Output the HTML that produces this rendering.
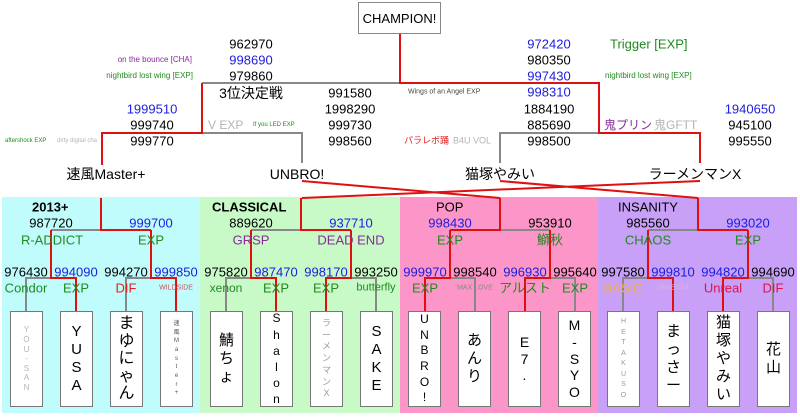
<!DOCTYPE html>
<html><head><meta charset="utf-8"><style>
*{margin:0;padding:0}
body{width:800px;height:418px;position:relative;background:#fff;overflow:hidden;font-family:"Liberation Sans","Noto Sans CJK JP",sans-serif;color:#000}
.bg{position:absolute;top:197px;height:216px}
.c{position:absolute;transform:translate(-50%,-50%);white-space:nowrap;font-size:13px;line-height:1}
.r{position:absolute;transform:translate(-100%,-50%);white-space:nowrap;line-height:1}
.l{position:absolute;transform:translate(0,-50%);white-space:nowrap;line-height:1}
.b{color:#1c1ce0}.g{color:#1f8a1f}.p{color:#8a2a9a}.rd{color:#e02020}.gy{color:#b4b4b4}
.box{position:absolute;top:311px;width:33px;height:96px;background:#fff;border:1px solid #777;box-sizing:border-box;display:flex;flex-direction:column;align-items:center;justify-content:center;text-align:center;line-height:1.2}
</style></head><body>
<div class="bg" style="left:2px;width:198px;background:#c0fcfc"></div>
<div class="bg" style="left:200px;width:200px;background:#c8fac8"></div>
<div class="bg" style="left:400px;width:198px;background:#fc96c8"></div>
<div class="bg" style="left:598px;width:199px;background:#c8a0f8"></div>

<svg width="800" height="418" style="position:absolute;left:0;top:0" fill="none" stroke-width="2">
<g stroke="#888">
<path d="M400 83H202M202 133H302V163M599 133H500V163"/>
<path d="M51 230H151M26 312V278H51M126 312V278H151"/>
<path d="M251 230H351M226 312V278H251M376 312V278H351"/>
<path d="M450 230H550M475 312V278H450M575 312V278H550"/>
<path d="M648 230H748M623 312V278H648M773 312V278H748"/>
</g>
<g stroke="#e01010">
<path d="M400 34V83H599V133H700V163"/>
<path d="M202 83V133H102V165"/>
<path d="M302 181L500 198M500 181L698 198M700 181L302 198"/>
<path d="M101 198V230H151M51 230V278H76V312M151 230V278H176V312"/>
<path d="M301 198V230H351M251 230V278H276V312M351 230V278H326V312"/>
<path d="M500 198V230H450M450 230V278H425V312M550 230V278H525V312"/>
<path d="M698 198V230H748M648 230V278H673V312M748 230V278H723V312"/>
</g>
</svg>

<div style="position:absolute;left:358px;top:2px;width:83px;height:32px;border:1px solid #888;box-sizing:border-box;background:#fff;display:flex;align-items:center;justify-content:center;font-size:13px">CHAMPION!</div>

<div class="c" style="left:251px;top:44px">962970</div>
<div class="c b" style="left:251px;top:60px">998690</div>
<div class="c" style="left:251px;top:76px">979860</div>
<div class="r p" style="left:192px;top:60px;font-size:8px">on the bounce [CHA]</div>
<div class="r g" style="left:193px;top:76px;font-size:8px">nightbird lost wing [EXP]</div>
<div class="c" style="left:251px;top:93px;font-size:14px">3位決定戦</div>
<div class="c" style="left:350px;top:93px">991580</div>
<div class="c" style="left:350px;top:109px">1998290</div>
<div class="c" style="left:350px;top:125px">999730</div>
<div class="c" style="left:350px;top:141px">998560</div>
<div class="c b" style="left:152px;top:109px">1999510</div>
<div class="c" style="left:152px;top:125px">999740</div>
<div class="c" style="left:152px;top:141px">999770</div>
<div class="l gy" style="left:208px;top:125px;font-size:12px">V EXP</div>
<div class="l g" style="left:253px;top:125px;font-size:6px">If you LED EXP</div>
<div class="l g" style="left:5px;top:141px;font-size:6px">aftershock EXP</div>
<div class="l gy" style="left:57px;top:141px;font-size:6px">dirty digital cha</div>
<div class="c" style="left:106px;top:174px;font-size:14px">速風Master+</div>
<div class="c" style="left:297px;top:174px;font-size:14px">UNBRO!</div>

<div class="c b" style="left:549px;top:44px">972420</div>
<div class="l g" style="left:610px;top:44px;font-size:13px">Trigger [EXP]</div>
<div class="c" style="left:549px;top:60px">980350</div>
<div class="c b" style="left:549px;top:76px">997430</div>
<div class="l g" style="left:605px;top:76px;font-size:8px">nightbird lost wing [EXP]</div>
<div class="l" style="left:408px;top:92px;font-size:7px;color:#444">Wings of an Angel EXP</div>
<div class="c b" style="left:549px;top:92px">998310</div>
<div class="c" style="left:549px;top:109px">1884190</div>
<div class="c" style="left:549px;top:125px">885690</div>
<div class="c" style="left:549px;top:141px">998500</div>
<div class="l p" style="left:604px;top:125px;font-size:12px">鬼プリン</div>
<div class="l gy" style="left:654px;top:125px;font-size:12px">鬼GFTT</div>
<div class="l rd" style="left:404px;top:141px;font-size:9px">パラレボ踊</div>
<div class="l gy" style="left:453px;top:141px;font-size:9px">B4U VOL</div>
<div class="c b" style="left:750px;top:109px">1940650</div>
<div class="c" style="left:750px;top:125px">945100</div>
<div class="c" style="left:750px;top:141px">995550</div>
<div class="c" style="left:500px;top:174px;font-size:14px">猫塚やみい</div>
<div class="c" style="left:695px;top:174px;font-size:14px">ラーメンマンX</div>

<!-- 2013+ -->
<div class="l" style="left:32px;top:207px;font-weight:bold;font-size:13px">2013+</div>
<div class="c" style="left:51px;top:223px">987720</div>
<div class="c b" style="left:151px;top:223px">999700</div>
<div class="c g" style="left:52px;top:240px">R-ADDICT</div>
<div class="c g" style="left:151px;top:240px">EXP</div>
<div class="c" style="left:26px;top:272px">976430</div>
<div class="c b" style="left:76px;top:272px">994090</div>
<div class="c" style="left:126px;top:272px">994270</div>
<div class="c b" style="left:176px;top:272px">999850</div>
<div class="c g" style="left:26px;top:288px">Condor</div>
<div class="c g" style="left:76px;top:288px">EXP</div>
<div class="c rd" style="left:126px;top:288px">DIF</div>
<div class="c" style="left:176px;top:288px;font-size:7px;color:#d05060">WILDSIDE</div>
<div class="box gy" style="left:10px;font-size:8px">Y<br>O<br>U<br>-<br>S<br>A<br>N</div>
<div class="box" style="left:60px;font-size:15px">Y<br>U<br>S<br>A</div>
<div class="box" style="left:110px;font-size:16px;line-height:1.1">ま<br>ゆ<br>に<br>ゃ<br>ん</div>
<div class="box" style="left:160px;font-size:6px;line-height:1.45;color:#555">速<br>風<br>M<br>a<br>s<br>t<br>e<br>r<br>+</div>

<!-- CLASSICAL -->
<div class="l" style="left:212px;top:207px;font-weight:bold;font-size:13px">CLASSICAL</div>
<div class="c" style="left:251px;top:223px">889620</div>
<div class="c b" style="left:351px;top:223px">937710</div>
<div class="c p" style="left:251px;top:240px">GRSP</div>
<div class="c p" style="left:351px;top:240px">DEAD END</div>
<div class="c" style="left:226px;top:272px">975820</div>
<div class="c b" style="left:276px;top:272px">987470</div>
<div class="c b" style="left:326px;top:272px">998170</div>
<div class="c" style="left:376px;top:272px">993250</div>
<div class="c g" style="left:226px;top:288px;font-size:12px">xenon</div>
<div class="c g" style="left:276px;top:288px">EXP</div>
<div class="c g" style="left:326px;top:288px">EXP</div>
<div class="c g" style="left:376px;top:288px;font-size:11px">butterfly</div>
<div class="box" style="left:210px;font-size:15px">鯖<br>ち<br>ょ</div>
<div class="box" style="left:260px;font-size:12px;line-height:1.35">S<br>h<br>a<br>l<br>o<br>n</div>
<div class="box gy" style="left:310px;font-size:9px;line-height:1.3;color:#999">ラ<br>ー<br>メ<br>ン<br>マ<br>ン<br>X</div>
<div class="box" style="left:360px;font-size:15px">S<br>A<br>K<br>E</div>

<!-- POP -->
<div class="l" style="left:436px;top:207px;font-size:13px">POP</div>
<div class="c b" style="left:450px;top:223px">998430</div>
<div class="c" style="left:550px;top:223px">953910</div>
<div class="c g" style="left:450px;top:240px">EXP</div>
<div class="c g" style="left:550px;top:240px">鰤秋</div>
<div class="c b" style="left:425px;top:272px">999970</div>
<div class="c" style="left:475px;top:272px">998540</div>
<div class="c b" style="left:525px;top:272px">996930</div>
<div class="c" style="left:575px;top:272px">995640</div>
<div class="c g" style="left:425px;top:288px">EXP</div>
<div class="c" style="left:475px;top:288px;font-size:7px;color:#888">MAX LOVE</div>
<div class="c g" style="left:525px;top:288px">アルスト</div>
<div class="c g" style="left:575px;top:288px">EXP</div>
<div class="box" style="left:408px;font-size:12px;line-height:1.3">U<br>N<br>B<br>R<br>O<br>!</div>
<div class="box" style="left:458px;font-size:15px">あ<br>ん<br>り</div>
<div class="box" style="left:508px;font-size:14px">E<br>7<br>.</div>
<div class="box" style="left:558px;font-size:14px">M<br>-<br>S<br>Y<br>O</div>

<!-- INSANITY -->
<div class="l" style="left:618px;top:207px;font-size:13px">INSANITY</div>
<div class="c" style="left:648px;top:223px">985560</div>
<div class="c b" style="left:748px;top:223px">993020</div>
<div class="c g" style="left:648px;top:240px">CHAOS</div>
<div class="c g" style="left:748px;top:240px">EXP</div>
<div class="c" style="left:623px;top:272px">997580</div>
<div class="c b" style="left:673px;top:272px">999810</div>
<div class="c b" style="left:723px;top:272px">994820</div>
<div class="c" style="left:773px;top:272px">994690</div>
<div class="c" style="left:623px;top:288px;color:#f0b040">BASIC</div>
<div class="c" style="left:673px;top:288px;font-size:7px;color:#e0b0d8">VANESSA</div>
<div class="c" style="left:723px;top:288px;color:#e0104a">Unreal</div>
<div class="c" style="left:773px;top:288px;color:#e0104a">DIF</div>
<div class="box" style="left:607px;font-size:7px;line-height:1.5;color:#999">H<br>E<br>T<br>A<br>K<br>U<br>S<br>O</div>
<div class="box" style="left:657px;font-size:15px">ま<br>っ<br>さ<br>ー</div>
<div class="box" style="left:707px;font-size:15px">猫<br>塚<br>や<br>み<br>い</div>
<div class="box" style="left:757px;font-size:15px">花<br>山</div>
</body></html>
